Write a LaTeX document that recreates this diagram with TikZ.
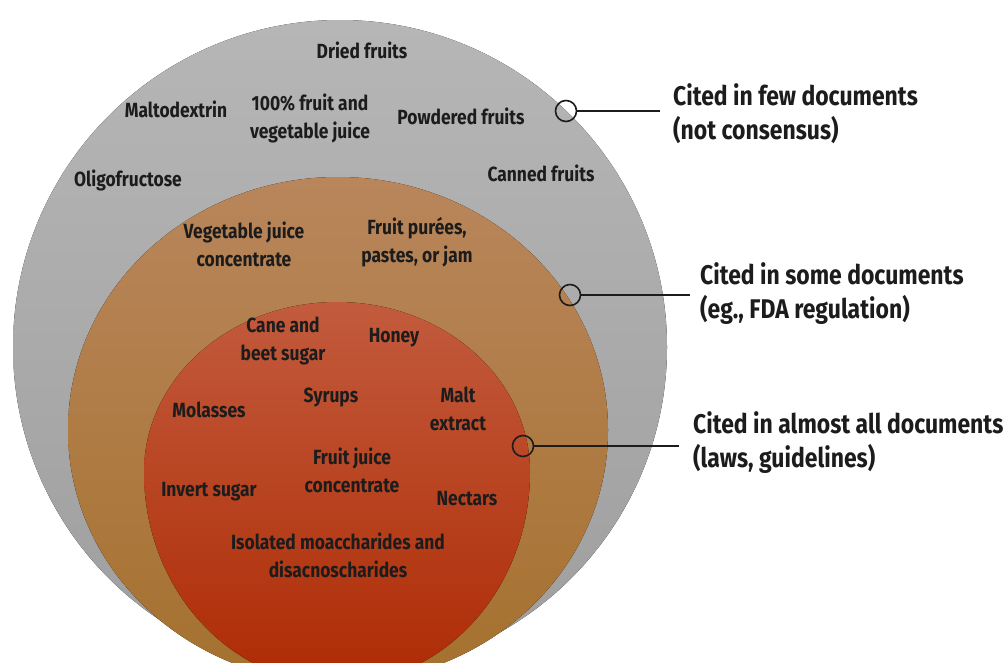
\documentclass[tikz,border=0pt]{standalone}
\usepackage{fontspec}
\newfontfamily\condfont{Fira Sans}[FakeStretch=0.85]
\definecolor{greytop}{HTML}{B6B6B6}
\definecolor{greybot}{HTML}{9E9E9E}
\definecolor{ochretop}{HTML}{B9865C}
\definecolor{ochrebot}{HTML}{A5712E}
\definecolor{rusttop}{HTML}{C25B3D}
\definecolor{rustbot}{HTML}{AE2B04}
\definecolor{ink}{HTML}{1C1C1C}
\begin{document}
\begin{tikzpicture}[x=1pt, y=-1pt,
	item/.style={text=ink, align=center, inner sep=0pt, font=\condfont\bfseries\fontsize{20.5}{28}\selectfont},
	tier/.style={text=ink, align=left, anchor=west, inner sep=0pt, font=\condfont\bfseries\fontsize{27}{34}\selectfont},
	dot/.style={circle, draw=ink, line width=1.6pt, minimum size=21pt, inner sep=0pt},
	lead/.style={draw=ink, line width=1.6pt}]
	\useasboundingbox (0,0) rectangle (1006,662);
	\clip (0,0) rectangle (1006,662);

	% the three rings
	\fill[top color=greytop, bottom color=greybot] (340,347) circle[radius=327];
	\fill[top color=ochretop, bottom color=ochrebot] (338,430) ellipse[x radius=270, y radius=253];
	\fill[top color=rusttop, bottom color=rustbot] (144,472)
		arc[start angle=180, end angle=360, x radius=193, y radius=170]
		arc[start angle=0, end angle=180, x radius=193, y radius=212] -- cycle;

	% outer ring
	\node[item] (dried) at (362,50) {Dried fruits};
	\node[item] (malto) at (176,109) {Maltodextrin};
	\node[item] (fullj) at (310,118) {100\% fruit and\\vegetable juice};
	\node[item] (powder) at (461,116) {Powdered fruits};
	\node[item] (oligo) at (128,180) {Oligofructose};
	\node[item] (canned) at (541,173) {Canned fruits};

	% middle ring
	\node[item] (vegconc) at (244,244) {Vegetable juice\\concentrate};
	\node[item] (puree) at (417,242) {Fruit purées,\\pastes, or jam};

	% inner ring
	\node[item] (cane) at (283,341) {Cane and\\beet sugar};
	\node[item] (honey) at (394,338) {Honey};
	\node[item] (syrups) at (331,397) {Syrups};
	\node[item] (malt) at (458,409) {Malt\\extract};
	\node[item] (molas) at (209,410) {Molasses};
	\node[item] (fjc) at (352,470) {Fruit juice\\concentrate};
	\node[item] (invert) at (209,492) {Invert sugar};
	\node[item] (nectar) at (467,499) {Nectars};
	\node[item] (iso) at (338,555) {Isolated moaccharides and\\disacnoscharides};

	% legend
	\node[dot] (few) at (566,111) {};
	\node[tier] (fewtxt) at (673,114) {Cited in few documents\\(not consensus)};
	\draw[lead, shorten >=13pt] (few) -- (few -| fewtxt.west);

	\node[dot] (some) at (570,295) {};
	\node[tier] (sometxt) at (700,294) {Cited in some documents\\(eg., FDA regulation)};
	\draw[lead, shorten >=10pt] (some) -- (some -| sometxt.west);

	\node[dot] (all) at (523,446) {};
	\node[tier] (alltxt) at (693,443) {Cited in almost all documents\\(laws, guidelines)};
	\draw[lead, shorten >=14pt] (all) -- (all -| alltxt.west);
\end{tikzpicture}
\end{document}
